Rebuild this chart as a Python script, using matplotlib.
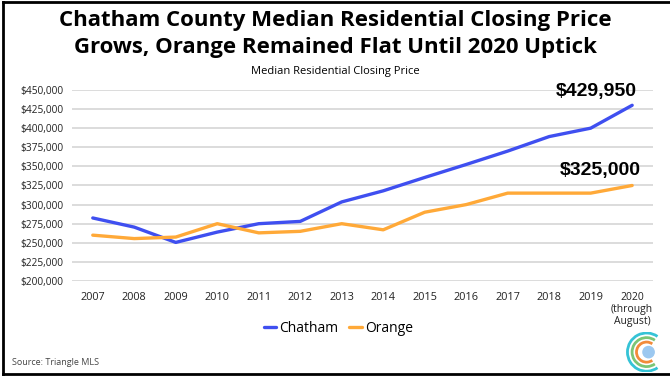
import matplotlib
matplotlib.use("Agg")
import matplotlib.pyplot as plt
from matplotlib.patches import Arc, Circle
from matplotlib.ticker import FuncFormatter

years = ["2007", "2008", "2009", "2010", "2011", "2012", "2013",
         "2014", "2015", "2016", "2017", "2018", "2019", "2020\n(through\nAugust)"]
chatham = [282500, 270500, 250500, 264000, 275000, 278000, 303500,
           318000, 335500, 352500, 370000, 389000, 400000, 429950]
orange = [260000, 255500, 257500, 275000, 263000, 265000, 275000,
          267000, 290000, 300000, 315000, 315000, 315000, 325000]
yticks = list(range(200000, 450001, 25000))

blue = "#3f4ff0"
gold = "#ffa938"

fig = plt.figure(figsize=(6.7, 3.78), dpi=100)
ax = fig.add_axes([0.1075, 0.2566, 0.867, 0.5054])

x = list(range(len(years)))
ax.plot(x, chatham, color=blue, lw=2.4, label="Chatham", solid_capstyle="round")
ax.plot(x, orange, color=gold, lw=2.4, label="Orange", solid_capstyle="round")

ax.set_xlim(-0.5, len(years) - 0.5)
ax.set_ylim(200000, 450000)
ax.set_yticks(yticks)
ax.yaxis.set_major_formatter(FuncFormatter(lambda v, p: "${:,.0f}".format(v)))
ax.set_xticks(x)
ax.set_xticklabels(years, linespacing=1.1, va="top")
ax.tick_params(axis="both", length=0, labelsize=7.8, colors="#222222")
ax.tick_params(axis="y", pad=6, labelsize=7.3)
ax.tick_params(axis="x", pad=8)
for lbl in ax.get_xticklabels() + ax.get_yticklabels():
    lbl.set_family("Open Sans")
ax.get_xticklabels()[-1].set_fontsize(7.5)
ax.grid(axis="y", color="#d9d9d9", lw=1.3)
ax.set_axisbelow(True)
for s in ax.spines.values():
    s.set_visible(False)

ax.annotate("${:,.0f}".format(chatham[-1]), (x[-1], chatham[-1]), xytext=(-26, 10),
            textcoords="offset points", ha="center", va="center",
            fontsize=14, fontweight="bold", family="Liberation Sans")
ax.annotate("${:,.0f}".format(orange[-1]), (x[-1], orange[-1]), xytext=(-23, 10.5),
            textcoords="offset points", ha="center", va="center",
            fontsize=14, fontweight="bold", family="Liberation Sans")

fig.text(0.5, 0.945, "Chatham County Median Residential Closing Price",
         ha="center", va="center", fontsize=16, fontweight="bold", family="Open Sans")
fig.text(0.5, 0.874, "Grows, Orange Remained Flat Until 2020 Uptick",
         ha="center", va="center", fontsize=16, fontweight="bold", family="Open Sans")
fig.text(0.5, 0.812, "Median Residential Closing Price",
         ha="center", va="center", fontsize=8, family="Open Sans")
fig.text(0.018, 0.042, "Source: Triangle MLS", ha="left", va="center",
         fontsize=6.5, color="#444444", family="Open Sans")

leg = fig.legend(loc="center", bbox_to_anchor=(0.505, 0.132), ncol=2, frameon=False,
                 handlelength=0.9, handletextpad=0.2, columnspacing=0.8,
                 prop={"family": "Open Sans", "size": 10})

# logo
lax = fig.add_axes([0.935, 0.015, 0.06, 0.107])
lax.set_xlim(-1, 1)
lax.set_ylim(-1, 1)
lax.set_aspect("equal")
lax.axis("off")
for r, c in [(0.95, "#35c3d6"), (0.72, "#7cc576"), (0.5, "#f28b3a")]:
    lax.add_patch(Arc((0, 0), 2 * r, 2 * r, theta1=55, theta2=305, color=c, lw=2))
lax.add_patch(Circle((0.1, 0), 0.28, color="#9cc8f0"))

# frame
fig.add_artist(plt.Line2D([0.005, 0.005], [0.01, 0.995], color="black", lw=2,
                          transform=fig.transFigure))
fig.add_artist(plt.Line2D([0.005, 1.0], [0.995, 0.995], color="black", lw=2,
                          transform=fig.transFigure))
fig.add_artist(plt.Line2D([0.005, 1.0], [0.01, 0.01], color="black", lw=2,
                          transform=fig.transFigure))

fig.savefig("out.png", dpi=100)
